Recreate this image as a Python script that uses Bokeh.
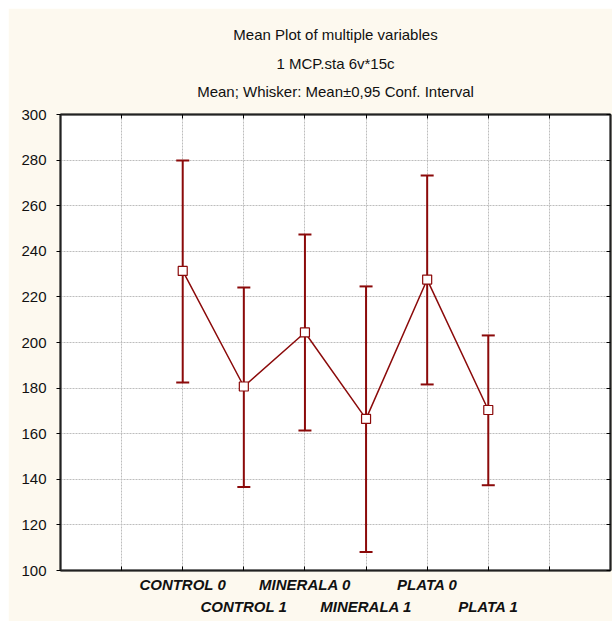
from bokeh.plotting import figure
from bokeh.models import (ColumnDataSource, Whisker, TeeHead, LinearAxis, Title,
                          FixedTicker, Range1d)
from bokeh.embed import file_html
from bokeh.resources import INLINE

title_lines = ["Mean Plot of multiple variables",
               "1 MCP.sta 6v*15c",
               "Mean; Whisker: Mean\u00b10,95 Conf. Interval"]
categories = ["CONTROL 0", "CONTROL 1", "MINERALA 0", "MINERALA 1", "PLATA 0", "PLATA 1"]
means = [231.4, 180.7, 204.4, 166.5, 227.6, 170.4]
upper = [279.8, 224.1, 247.4, 224.6, 273.2, 203.1]
lower = [182.5, 136.6, 161.4, 108.1, 181.6, 137.4]
y_ticks = [100, 120, 140, 160, 180, 200, 220, 240, 260, 280, 300]

positions = list(range(2, 2 + len(categories)))
grid_x = list(range(1, 9))
DARK_RED = "#8B0A0A"
FONT = "Liberation Sans"
BG = "#FDF9EF"
AX = "#222222"

src = ColumnDataSource(dict(x=positions, mean=means, upper=upper, lower=lower))

p = figure(width=604, height=613, output_backend="svg", toolbar_location=None,
           x_range=Range1d(0, 9), y_range=Range1d(100, 300),
           min_border_left=52, min_border_right=2, min_border_top=106, min_border_bottom=51)
p.margin = (8, 0, 0, 8)
p.title.visible = False
p.border_fill_color = BG
p.background_fill_color = "white"
p.outline_line_color = AX
p.outline_line_width = 1.5

xa = p.below[0]
ya = p.left[0]

# top axis (ticks only) first so it sits against the frame
ta = LinearAxis(ticker=FixedTicker(ticks=grid_x), major_label_text_font_size="0px",
                major_tick_in=4, major_tick_out=0, minor_tick_line_color=None,
                axis_line_color=AX, axis_line_width=2, major_label_standoff=0)
p.add_layout(ta, "above")

# titles, innermost first
for txt, so in zip(reversed(title_lines), [29, -10, 30]):
    p.add_layout(Title(text=txt, align="center", text_font=FONT, text_font_size="15px",
                       text_font_style="normal", text_color="#111111", standoff=so), "above")

# grid
p.xgrid.ticker = FixedTicker(ticks=grid_x)
p.ygrid.ticker = FixedTicker(ticks=y_ticks)
for g in (p.xgrid, p.ygrid):
    g.grid_line_color = "#bdbdbd"
    g.grid_line_dash = "2 1"
    g.grid_line_width = 1

# bottom axis: first row of labels, second axis: second row
row1 = {t: "" for t in grid_x}
row2 = {t: "" for t in grid_x}
for i, (pos, cat) in enumerate(zip(positions, categories)):
    (row1 if i % 2 == 0 else row2)[pos] = cat

xa.ticker = FixedTicker(ticks=grid_x)
xa.major_label_overrides = row1
xa.major_label_text_font = FONT
xa.major_label_text_font_style = "bold italic"
xa.major_label_text_font_size = "15px"
xa.major_label_text_color = "#111111"
xa.major_tick_in = 4
xa.major_tick_out = 0
xa.minor_tick_line_color = None
xa.axis_line_color = AX
xa.axis_line_width = 2
xa.major_label_standoff = 5

xb = LinearAxis(ticker=FixedTicker(ticks=positions), major_label_overrides=row2,
                major_label_text_font=FONT, major_label_text_font_style="bold italic",
                major_label_text_font_size="15px", major_label_text_color="#111111",
                major_tick_line_color=None, minor_tick_line_color=None,
                axis_line_color=None, major_label_standoff=-4)
p.add_layout(xb, "below")

ya.ticker = FixedTicker(ticks=y_ticks)
ya.major_label_text_font = FONT
ya.major_label_text_font_size = "15px"
ya.major_label_text_color = "#111111"
ya.major_tick_in = 0
ya.major_tick_out = 4
ya.minor_tick_line_color = None
ya.axis_line_color = AX
ya.axis_line_width = 2
ya.major_label_standoff = 10

ra = LinearAxis(ticker=FixedTicker(ticks=y_ticks), major_label_text_font_size="0px",
                major_tick_in=4, major_tick_out=0, minor_tick_line_color=None,
                axis_line_color=AX, axis_line_width=2, major_label_standoff=0)
p.add_layout(ra, "right")

# whiskers
w = Whisker(source=src, base="x", upper="upper", lower="lower", dimension="height",
            line_color=DARK_RED, line_width=2,
            upper_head=TeeHead(size=13, line_color=DARK_RED, line_width=2),
            lower_head=TeeHead(size=13, line_color=DARK_RED, line_width=2))
p.add_layout(w)

p.line("x", "mean", source=src, line_color=DARK_RED, line_width=1.5)
p.scatter("x", "mean", source=src, marker="square", size=9, fill_color="white",
          line_color=DARK_RED, line_width=1.2)

open("out.html", "w").write(file_html(p, INLINE))
